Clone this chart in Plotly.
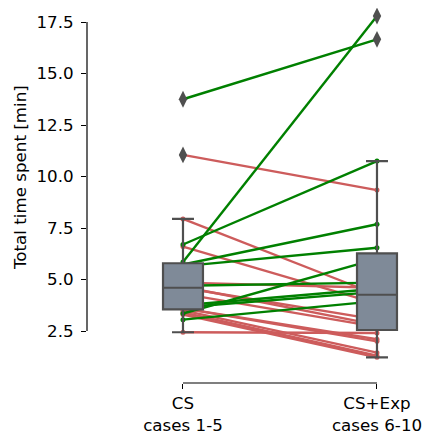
import plotly.graph_objects as go

# ---- data ----
group_positions = [0, 1]
group_labels = ["CS<br>cases 1-5", "CS+Exp<br>cases 6-10"]
cs_time = [13.75, 5.85, 6.70, 5.73, 5.65, 3.35, 4.70, 3.75, 3.65, 3.05,
           11.05, 7.94, 6.60, 4.85, 4.60, 4.65, 4.30, 3.60, 3.60, 3.50,
           3.40, 3.30, 2.44]
exp_time = [16.66, 17.79, 10.75, 7.68, 6.54, 6.00, 4.85, 4.55, 4.40, 3.95,
            9.34, 4.26, 3.83, 4.60, 3.05, 2.80, 2.70, 2.10, 2.00, 1.45,
            1.30, 1.22, 2.40]
y_ticks = [2.5, 5.0, 7.5, 10.0, 12.5, 15.0, 17.5]
y_tick_labels = ["2.5", "5.0", "7.5", "10.0", "12.5", "15.0", "17.5"]
y_title = "Total time spent [min]"

GREEN = "#008000"
RED = "#cd5c5c"
FONT = "DejaVu Sans"
FS = 16.7

fig = go.Figure()

# paired lines
for color, cond in [(RED, lambda a, b: b <= a), (GREEN, lambda a, b: b > a)]:
    xs, ys = [], []
    for a, b in zip(cs_time, exp_time):
        if cond(a, b):
            xs += [group_positions[0], group_positions[1], None]
            ys += [a, b, None]
    fig.add_trace(go.Scatter(
        x=xs, y=ys, mode="lines+markers",
        line=dict(color=color, width=2.4),
        marker=dict(color=color, size=5),
        hoverinfo="skip", xaxis="x", yaxis="y"))

# boxes on top
for pos, vals in zip(group_positions, [cs_time, exp_time]):
    fig.add_trace(go.Box(
        y=vals, x0=pos, width=0.206, boxpoints="outliers",
        quartilemethod="inclusive", pointpos=0, jitter=0,
        fillcolor="#7f8a98", line=dict(color="#4f4f4f", width=2.2),
        marker=dict(symbol="diamond-tall", size=12, color="#4f4f4f"),
        whiskerwidth=0.55, xaxis="x2", yaxis="y2"))

xr = [-0.4948, 1.2423]
yr = [-0.024, 18.18]

fig.update_layout(
    width=424, height=434,
    margin=dict(l=87, r=0, t=8, b=51),
    paper_bgcolor="white", plot_bgcolor="white",
    showlegend=False,
    font=dict(family=FONT, size=FS, color="black"),
    xaxis=dict(range=xr, type="linear", tickvals=group_positions, ticktext=group_labels,
               ticks="outside", ticklen=5, tickwidth=1.1, tickcolor="black",
               showline=False, showgrid=False, zeroline=False, automargin=False,
               tickfont=dict(family=FONT, size=FS, color="black")),
    yaxis=dict(range=yr, tickvals=y_ticks, ticktext=y_tick_labels,
               ticks="outside", ticklen=5, tickwidth=1.1, tickcolor="black",
               showline=False, showgrid=False, zeroline=False, automargin=False,
               ticklabelstandoff=4,
               tickfont=dict(family=FONT, size=FS, color="black")),
    xaxis2=dict(range=xr, type="linear", overlaying="x", anchor="y2", visible=False),
    yaxis2=dict(range=yr, overlaying="y", anchor="x2", visible=False),
    shapes=[
        dict(type="line", xref="paper", yref="y", x0=0, x1=0, y0=2.5, y1=17.5,
             line=dict(color="black", width=1.2)),
        dict(type="line", xref="x", yref="paper", x0=0, x1=1, y0=0, y1=0,
             line=dict(color="black", width=1.2)),
    ],
    annotations=[
        dict(text=y_title, textangle=-90, xref="paper", yref="paper",
             x=-0.1988, y=0.5467, xanchor="center", yanchor="middle",
             showarrow=False, font=dict(family=FONT, size=FS, color="black")),
    ],
)

fig.write_html(
    "out.html",
    config={"displayModeBar": False},
    post_script="document.body.style.margin='0';document.body.style.overflow='hidden';",
)
